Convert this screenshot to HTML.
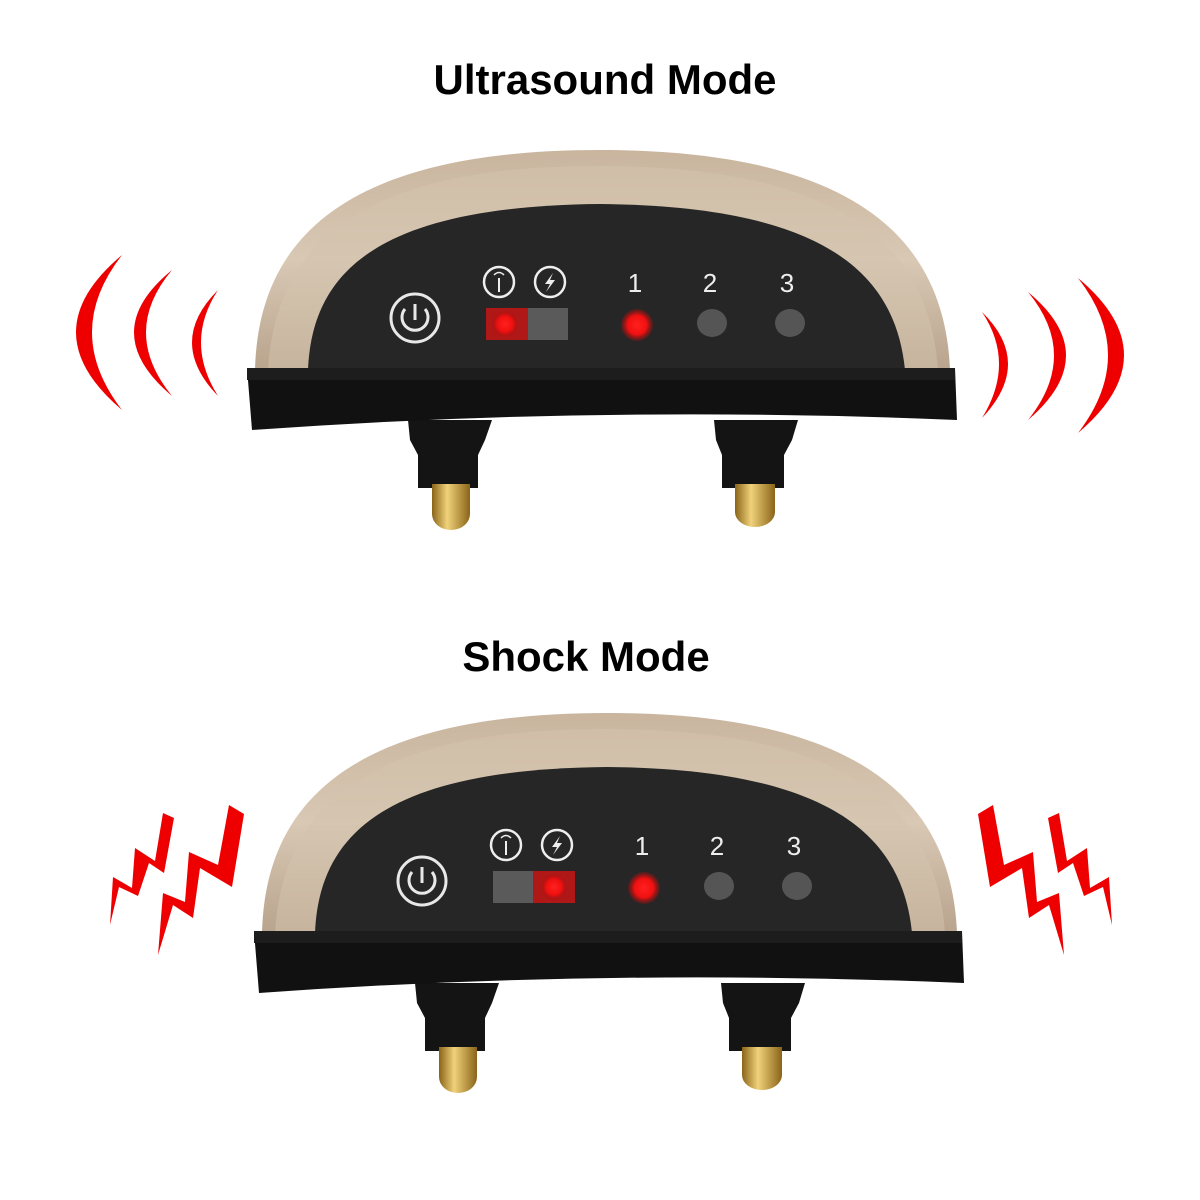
<!DOCTYPE html>
<html><head><meta charset="utf-8"><style>
html,body{margin:0;padding:0;background:#fff;width:1200px;height:1200px;overflow:hidden}
svg{display:block}
</style></head><body>
<svg width="1200" height="1200" viewBox="0 0 1200 1200" xmlns="http://www.w3.org/2000/svg">
<defs>
<linearGradient id="gold" x1="0" y1="0" x2="0" y2="1">
<stop offset="0" stop-color="#c9b59e"/><stop offset="0.5" stop-color="#d8c8b4"/><stop offset="1" stop-color="#b9a48d"/>
</linearGradient>
<linearGradient id="pin" x1="0" y1="0" x2="1" y2="0">
<stop offset="0" stop-color="#8a6418"/><stop offset="0.4" stop-color="#f0d27a"/><stop offset="1" stop-color="#8a6418"/>
</linearGradient>
<radialGradient id="red"><stop offset="0" stop-color="#ff2020"/><stop offset="0.6" stop-color="#f01010"/><stop offset="1" stop-color="#a01010" stop-opacity="0.3"/></radialGradient>
<g id="dev">
  <path d="M408 420 L492 420 L485 440 L478 455 L478 488 L418 488 L418 455 L410 440 Z" fill="#141414"/>
  <rect x="432" y="484" width="38" height="30" fill="url(#pin)"/>
  <ellipse cx="451" cy="514" rx="19" ry="16" fill="url(#pin)"/>
  <path d="M714 420 L798 420 L792 440 L784 455 L784 488 L722 488 L722 455 L716 440 Z" fill="#141414"/>
  <rect x="735" y="484" width="40" height="28" fill="url(#pin)"/>
  <ellipse cx="755" cy="512" rx="20" ry="15" fill="url(#pin)"/>
  <path d="M255 370 C258 250 330 150 600 150 C870 150 945 250 950 370 Z" fill="url(#gold)"/>
  <path d="M268 370 C275 255 345 165 600 166 C855 166 930 255 938 370 Z" fill="#d4c3ae" opacity="0.5"/>
  <path d="M308 370 C312 270 380 206 600 204 C820 206 895 270 905 370 Z" fill="#262626"/>
  <path d="M247 368 L955 368 L957 420 Q600 405 252 430 Z" fill="#111"/>
  <path d="M247 368 L955 368 L955 380 L247 380 Z" fill="#1d1d1d"/>
  <circle cx="415" cy="318" r="24" fill="none" stroke="#e8e8e8" stroke-width="3"/>
  <path d="M405 309 A13 13 0 1 0 425 309" fill="none" stroke="#e8e8e8" stroke-width="3"/>
  <line x1="415" y1="304" x2="415" y2="320" stroke="#e8e8e8" stroke-width="3"/>
  <circle cx="499" cy="282" r="15" fill="none" stroke="#eee" stroke-width="2.5"/>
  <line x1="499" y1="278" x2="499" y2="292" stroke="#eee" stroke-width="2"/>
  <path d="M494 275 Q499 270 504 275" fill="none" stroke="#eee" stroke-width="1.5"/>
  <circle cx="550" cy="282" r="15" fill="none" stroke="#eee" stroke-width="2.5"/>
  <path d="M553 273 L545 284 L550 284 L546 292 L555 280 L550 280 Z" fill="#eee"/>
  <text x="635" y="292" font-family="Liberation Sans, sans-serif" font-size="26" fill="#eee" text-anchor="middle">1</text>
  <text x="710" y="292" font-family="Liberation Sans, sans-serif" font-size="26" fill="#eee" text-anchor="middle">2</text>
  <text x="787" y="292" font-family="Liberation Sans, sans-serif" font-size="26" fill="#eee" text-anchor="middle">3</text>
  <rect x="486" y="308" width="82" height="32" fill="#5a5a5a"/>
  <ellipse cx="712" cy="323" rx="15" ry="14" fill="#555"/>
  <ellipse cx="790" cy="323" rx="15" ry="14" fill="#555"/>
</g>
</defs>

<text x="605" y="94" font-family="Liberation Sans, sans-serif" font-weight="bold" font-size="42" text-anchor="middle" fill="#000">Ultrasound Mode</text>
<text x="586" y="671" font-family="Liberation Sans, sans-serif" font-weight="bold" font-size="42" text-anchor="middle" fill="#000">Shock Mode</text>

<use href="#dev"/>
<rect x="486" y="308" width="42" height="32" fill="#b01818"/>
<circle cx="505" cy="324" r="13" fill="url(#red)"/>
<circle cx="637" cy="325" r="16" fill="url(#red)"/>

<g transform="translate(7,563)">
<use href="#dev"/>
<rect x="526" y="308" width="42" height="32" fill="#b01818"/>
<circle cx="547" cy="324" r="13" fill="url(#red)"/>
<circle cx="637" cy="325" r="16" fill="url(#red)"/>
</g>

<g fill="#ee0000">
<path d="M122 255 Q30 332 122 410 Q62 332 122 255 Z"/>
<path d="M172 270 Q96 332 172 396 Q120 332 172 270 Z"/>
<path d="M218 290 Q166 342 218 396 Q184 342 218 290 Z"/>
<path d="M1078 278 Q1170 355 1078 433 Q1138 355 1078 278 Z"/>
<path d="M1028 292 Q1104 355 1028 420 Q1080 355 1028 292 Z"/>
<path d="M982 312 Q1034 363 982 418 Q1016 363 982 312 Z"/>
</g>

<g fill="#ee0000">
<polygon points="163,813 174,818 164,873 149,863 138,896 119,887 110,925 113,877 132,888 135,848 155,861"/>
<polygon points="229,805 244,814 232,887 200,868 193,918 173,905 158,955 163,893 185,902 189,852 218,865"/>
<g transform="translate(1222,0) scale(-1,1)">
<polygon points="163,813 174,818 164,873 149,863 138,896 119,887 110,925 113,877 132,888 135,848 155,861"/>
<polygon points="229,805 244,814 232,887 200,868 193,918 173,905 158,955 163,893 185,902 189,852 218,865"/>
</g>
</g>
</svg>
</body></html>
